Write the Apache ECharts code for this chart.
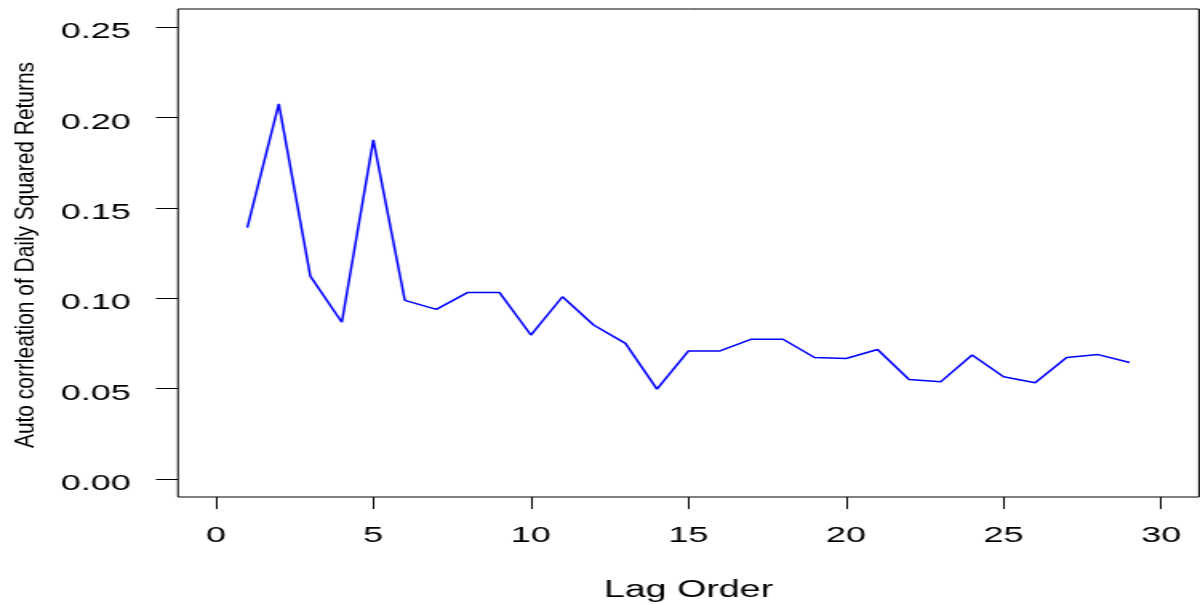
<!DOCTYPE html>
<html>
<head>
<meta charset="utf-8">
<script src="https://cdn.jsdelivr.net/npm/echarts@6/dist/echarts.min.js"></script>
<style>
  html, body { margin: 0; padding: 0; background: #fff; overflow: hidden; }
  #wrap { width: 1200px; height: 604px; overflow: hidden; }
  #chart { width: 750px; height: 604px; transform: scaleX(1.6); transform-origin: 0 0; }
</style>
</head>
<body>
<div id="wrap"><div id="chart"></div></div>
<script>
// Data
const lags = [1, 2, 3, 4, 5, 6, 7, 8, 9, 10, 11, 12, 13, 14, 15, 16, 17, 18, 19, 20, 21, 22, 23, 24, 25, 26, 27, 28, 29];
const acfValues = [0.139, 0.2075, 0.1122, 0.0867, 0.1876, 0.0988, 0.0938, 0.1032, 0.1032, 0.0796,
                   0.1008, 0.0850, 0.0750, 0.0497, 0.0708, 0.0708, 0.0773, 0.0773, 0.0672, 0.0666,
                   0.0716, 0.0550, 0.0537, 0.0686, 0.0565, 0.0532, 0.0672, 0.0688, 0.0644];
const xTickValues = [0, 5, 10, 15, 20, 25, 30];
const xTickLabels = ['0', '5', '10', '15', '20', '25', '30'];
const yTickValues = [0, 0.05, 0.10, 0.15, 0.20, 0.25];
const yTickLabels = ['0.00', '0.05', '0.10', '0.15', '0.20', '0.25'];
const xTitle = 'Lag Order';
const yTitle = 'Auto corrleation of Daily Squared Returns';

const S = 1.6; // horizontal stretch of the reference
const seriesData = lags.map((l, i) => [l, acfValues[i]]);

function labelFor(values, labels, v) {
  for (let i = 0; i < values.length; i++) {
    if (Math.abs(values[i] - v) < 1e-9) return labels[i];
  }
  return '';
}

const font = '"Liberation Sans", Arial, Helvetica, sans-serif';
const chart = echarts.init(document.getElementById('chart'), null, { renderer: 'canvas' });
chart.setOption({
  animation: false,
  backgroundColor: '#ffffff',
  grid: {
    left: 178 / S, right: 750 - 1199 / S, top: 9, bottom: 604 - 497,
    outerBoundsMode: 'none', containLabel: false,
    show: true, borderColor: '#000', borderWidth: 1, backgroundColor: 'transparent'
  },
  xAxis: {
    type: 'value', min: -1.2, max: 31.2,
    axisLine: { show: false, onZero: false },
    splitLine: { show: false },
    axisTick: { show: true, length: 12, customValues: xTickValues, lineStyle: { color: '#000', width: 1 } },
    axisLabel: {
      customValues: xTickValues, margin: 27, color: '#000', fontSize: 22.5, fontFamily: font,
      formatter: v => labelFor(xTickValues, xTickLabels, v)
    },
    name: xTitle, nameLocation: 'middle', nameGap: 82,
    nameTextStyle: { color: '#000', fontSize: 23.5, fontFamily: font }
  },
  yAxis: {
    type: 'value', min: -0.01, max: 0.26,
    axisLine: { show: false, onZero: false },
    splitLine: { show: false },
    axisTick: { show: true, length: 13.75, customValues: yTickValues, lineStyle: { color: '#000', width: 1 } },
    axisLabel: {
      customValues: yTickValues, margin: 29.4, color: '#000', fontSize: 22.5, fontFamily: font,
      verticalAlign: 'top', lineHeight: 10,
      formatter: v => labelFor(yTickValues, yTickLabels, v)
    }
  },
  graphic: [{
    type: 'text',
    x: 26 / S, y: 255,
    rotation: Math.PI / 2,
    scaleX: 1.046, scaleY: 0.85,
    style: {
      text: yTitle, fill: '#000', fontSize: 20, fontFamily: font,
      align: 'center', verticalAlign: 'middle'
    }
  }],
  series: [{
    type: 'line',
    data: seriesData,
    showSymbol: false,
    lineStyle: { color: '#0000FF', width: 1.5 },
    itemStyle: { color: '#0000FF' }
  }]
});
</script>
</body>
</html>
